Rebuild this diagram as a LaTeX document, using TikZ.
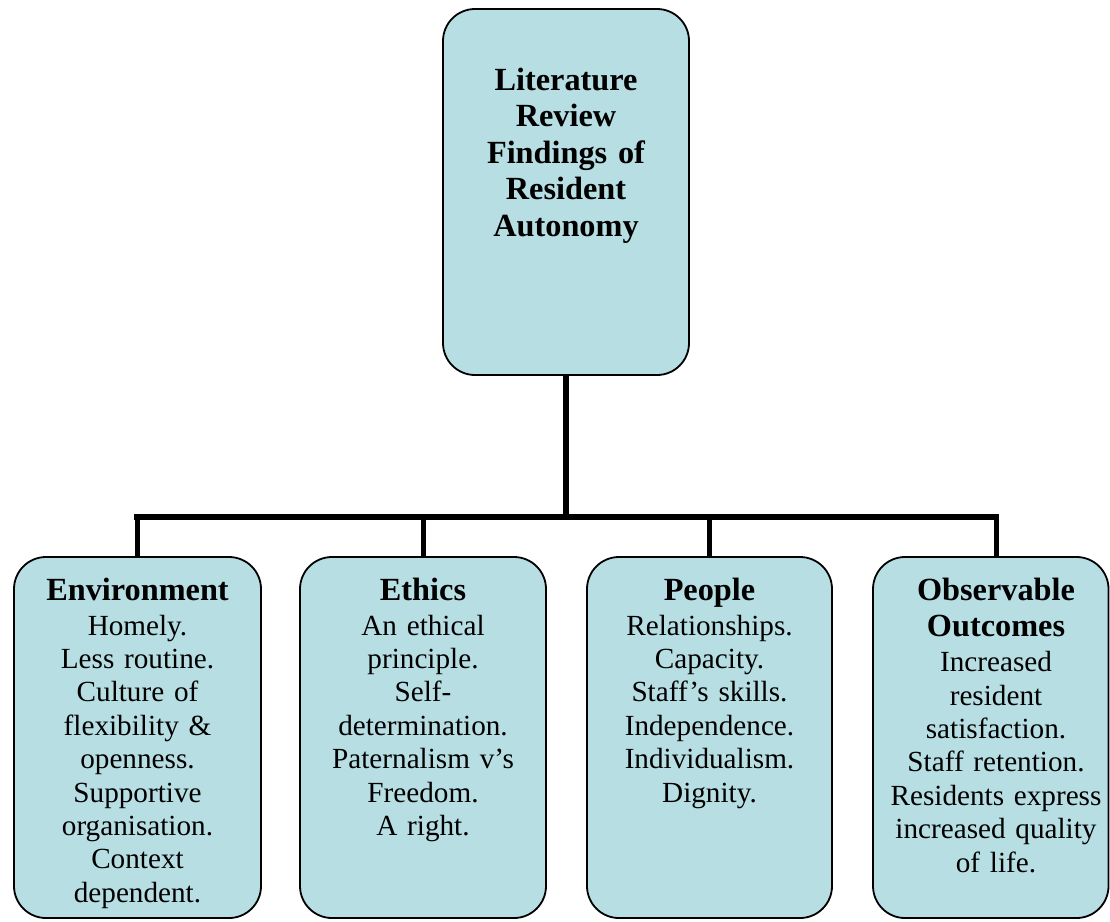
\documentclass[tikz,border=0pt]{standalone}
\usepackage{fontspec}
\setmainfont{Liberation Serif}
\definecolor{boxfill}{HTML}{B7DEE3}
\newcommand\mybody{\fontsize{29.2}{33.4}\selectfont}
\newcommand\myhead{\fontsize{32.3}{36.6}\selectfont\bfseries}
\newcommand\headpar[1]{{\myhead #1\par}\vspace{1.7pt}}
\tikzset{
  box/.style={draw=black, line width=1.8pt, fill=boxfill, rounded corners=32pt, inner sep=0pt},
  boxtext/.style={anchor=base, inner sep=0pt, text width=240pt, align=center, font=\mybody},
  trunk/.style={line width=6.5pt},
  busline/.style={line width=6.5pt, line cap=rect},
  dropline/.style={line width=5pt}
}
\begin{document}
\begin{tikzpicture}[x=1pt,y=-1pt]
\useasboundingbox (0,0) rectangle (1110,921);
\clip (0,0) rectangle (1110,921);
% boxes
\node[box, minimum width=246pt, minimum height=366pt] (top) at (566,192) {};
\node[box, minimum width=247pt, minimum height=361pt] (env) at (137.5,737.5) {};
\node[box, minimum width=246pt, minimum height=361pt] (eth) at (423,737.5) {};
\node[box, minimum width=245pt, minimum height=361pt] (peo) at (709.5,737.5) {};
\node[box, minimum width=235.5pt, minimum height=361pt] (obs) at (990.75,737.5) {};
% texts
\node[boxtext, font=\myhead] (topt) at (566,90) {Literature\\Review\\Findings of\\Resident\\Autonomy};
\node[boxtext] (envt) at (137.5,600) {\headpar{Environment}Homely.\\Less routine.\\Culture of\\flexibility \&\\openness.\\Supportive\\organisation.\\Context\\dependent.};
\node[boxtext] (etht) at (423,600) {\headpar{Ethics}An ethical\\principle.\\Self-\\determination.\\Paternalism v’s\\Freedom.\\A right.};
\node[boxtext] (peot) at (709.5,600) {\headpar{People}Relationships.\\Capacity.\\Staff’s skills.\\Independence.\\Individualism.\\Dignity.};
\node[boxtext] (obst) at (996,600) {\headpar{Observable\\Outcomes}Increased\\resident\\satisfaction.\\Staff retention.\\Residents express\\increased quality\\of life.};
% connectors
\coordinate (bus) at (566,517);
\draw[trunk] (top.south) -- (bus);
\draw[busline] (env.north |- bus) -- (obst.center |- bus);
\draw[dropline] (env.north |- bus) -- (env.north);
\draw[dropline] (eth.north |- bus) -- (eth.north);
\draw[dropline] (peo.north |- bus) -- (peo.north);
\draw[dropline] (obst.center |- bus) -- (obst.center |- obs.north);
\end{tikzpicture}
\end{document}
